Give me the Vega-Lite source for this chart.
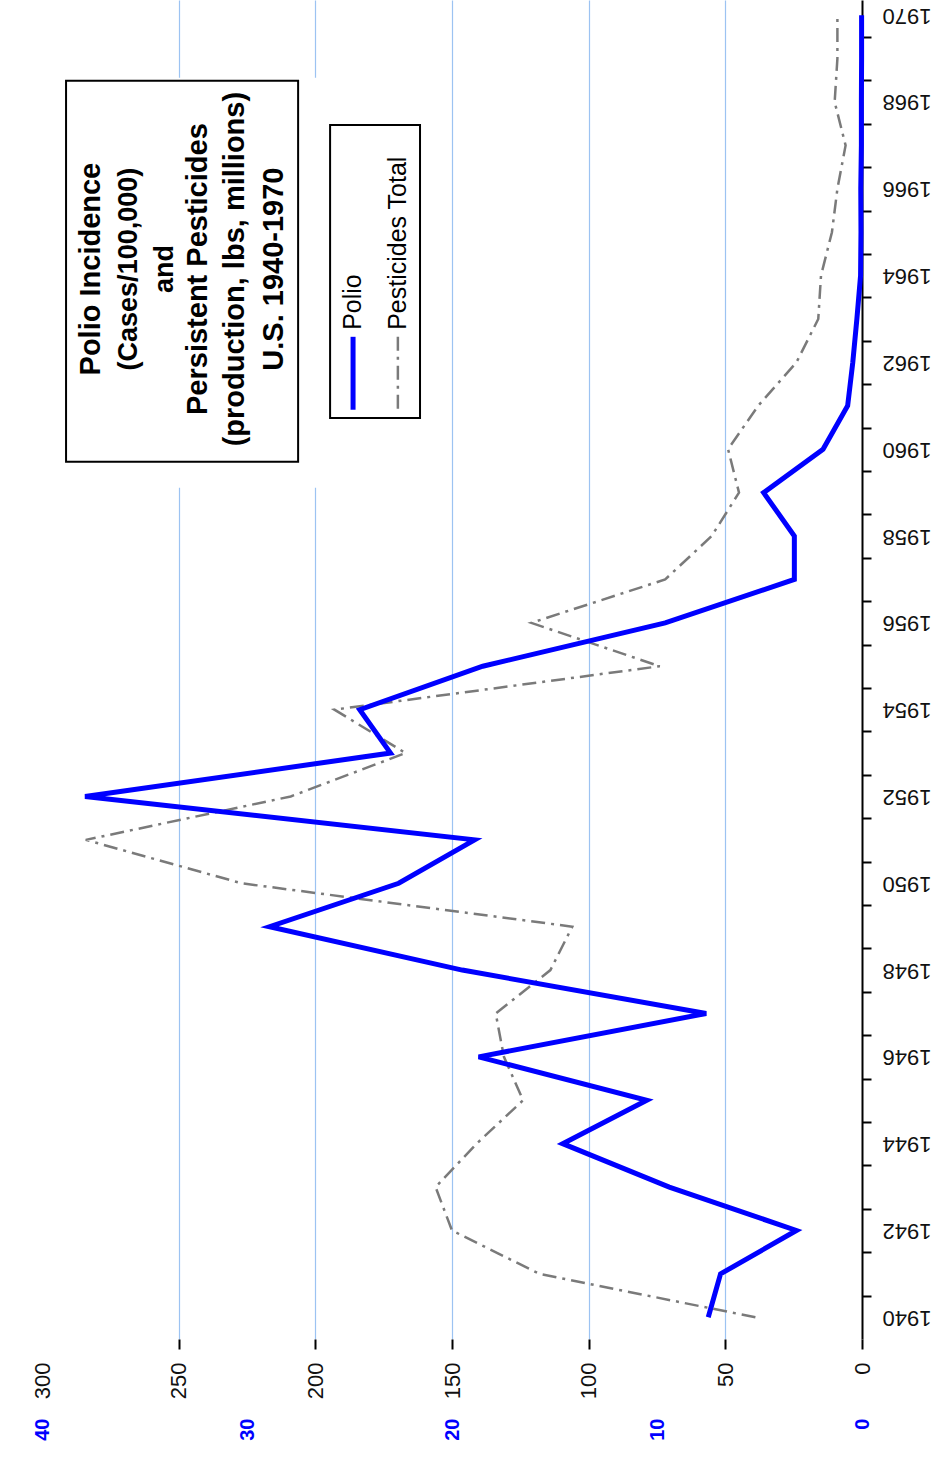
{
  "$schema": "https://vega.github.io/schema/vega-lite/v6.json",
  "width": 820,
  "height": 1339,
  "autosize": {"type": "none"},
  "padding": {"left": 42, "top": 0, "right": 78, "bottom": 140},
  "background": "white",
  "config": {"view": {"stroke": null}, "font": "Liberation Sans"},
  "datasets": {
    "main": [
      {"year": 1940, "polio": 7.5, "pesticides": 39},
      {"year": 1941, "polio": 6.9, "pesticides": 118},
      {"year": 1942, "polio": 3.2, "pesticides": 150},
      {"year": 1943, "polio": 9.4, "pesticides": 156},
      {"year": 1944, "polio": 14.6, "pesticides": 141},
      {"year": 1945, "polio": 10.5, "pesticides": 124},
      {"year": 1946, "polio": 18.7, "pesticides": 131},
      {"year": 1947, "polio": 7.6, "pesticides": 134},
      {"year": 1948, "polio": 19.5, "pesticides": 114},
      {"year": 1949, "polio": 28.9, "pesticides": 106},
      {"year": 1950, "polio": 22.6, "pesticides": 227},
      {"year": 1951, "polio": 18.9, "pesticides": 284},
      {"year": 1952, "polio": 37.9, "pesticides": 209},
      {"year": 1953, "polio": 23.0, "pesticides": 167},
      {"year": 1954, "polio": 24.5, "pesticides": 193},
      {"year": 1955, "polio": 18.5, "pesticides": 74},
      {"year": 1956, "polio": 9.6, "pesticides": 121},
      {"year": 1957, "polio": 3.3, "pesticides": 72},
      {"year": 1958, "polio": 3.3, "pesticides": 55},
      {"year": 1959, "polio": 4.8, "pesticides": 45},
      {"year": 1960, "polio": 1.9, "pesticides": 49},
      {"year": 1961, "polio": 0.7, "pesticides": 38},
      {"year": 1962, "polio": 0.45, "pesticides": 24},
      {"year": 1963, "polio": 0.25, "pesticides": 16},
      {"year": 1964, "polio": 0.07, "pesticides": 15},
      {"year": 1965, "polio": 0.05, "pesticides": 11},
      {"year": 1966, "polio": 0.06, "pesticides": 9},
      {"year": 1967, "polio": 0.03, "pesticides": 6},
      {"year": 1968, "polio": 0.03, "pesticides": 10},
      {"year": 1969, "polio": 0.02, "pesticides": 9},
      {"year": 1970, "polio": 0.02, "pesticides": 9}
    ]
  },
  "data": {"name": "main"},
  "resolve": {"scale": {"x": "independent"}, "axis": {"x": "independent"}},
  "layer": [
    {
      "layer": [
        {
          "mark": {"type": "line", "stroke": "#7a7a7a", "strokeWidth": 2.5, "strokeDash": [14, 6, 3, 6]},
          "encoding": {
            "x": {
              "field": "pesticides", "type": "quantitative",
              "scale": {"domain": [0, 300], "reverse": true, "nice": false},
              "axis": {
                "orient": "bottom", "values": [0, 50, 100, 150, 200, 250, 300], "title": null,
                "domain": false, "grid": true,
                "gridColor": {"condition": {"test": "datum.value == 0 || datum.value == 300", "value": "transparent"}, "value": "#9cc3f2"},
                "gridWidth": 1.2,
                "ticks": true,
                "tickColor": {"condition": {"test": "datum.value == 300", "value": "transparent"}, "value": "black"},
                "tickSize": 10, "tickWidth": 2,
                "labelAngle": 270, "labelFontSize": 22, "labelColor": "#111111", "labelPadding": 13,
                "labelOverlap": false, "labelFlush": false, "labelBound": false
              }
            },
            "y": {
              "field": "year", "type": "quantitative",
              "scale": {"domain": [1939.5, 1970.35], "nice": false, "zero": false},
              "axis": {
                "orient": "right",
                "values": [1939, 1940, 1941, 1942, 1943, 1944, 1945, 1946, 1947, 1948, 1949, 1950, 1951, 1952, 1953, 1954, 1955, 1956, 1957, 1958, 1959, 1960, 1961, 1962, 1963, 1964, 1965, 1966, 1967, 1968, 1969, 1970],
                "title": null, "grid": false,
                "domain": true, "domainColor": "black", "domainWidth": 2,
                "ticks": true, "tickColor": "black", "tickWidth": 2, "tickSize": 9,
                "tickOffset": -21.7, "labelOffset": 21.7,
                "labelExpr": "datum.value % 2 == 0 ? '' + datum.value : ''",
                "labelAngle": 180, "labelAlign": "right", "labelBaseline": "middle",
                "labelFontSize": 22, "labelColor": "#111111", "labelPadding": 11,
                "labelOverlap": false, "labelBound": false, "labelFlush": false
              }
            },
            "order": {"field": "year"}
          }
        },
        {
          "data": {"values": [{}]},
          "mark": {"type": "rect", "fill": "white", "stroke": null},
          "encoding": {
            "x": {"datum": 298.9, "type": "quantitative"},
            "x2": {"datum": 158},
            "y": {"datum": 1968.56, "type": "quantitative"},
            "y2": {"datum": 1959.11}
          }
        },
        {
          "data": {"values": [{}]},
          "mark": {"type": "rect", "fill": "white", "stroke": "black", "strokeWidth": 2},
          "encoding": {
            "x": {"datum": 291.2, "type": "quantitative"},
            "x2": {"datum": 206.3},
            "y": {"datum": 1968.49, "type": "quantitative"},
            "y2": {"datum": 1959.71}
          }
        },
        {
          "data": {"values": [{}]},
          "mark": {"type": "rect", "fill": "white", "stroke": "black", "strokeWidth": 2},
          "encoding": {
            "x": {"datum": 194.6, "type": "quantitative"},
            "x2": {"datum": 161.7},
            "y": {"datum": 1967.47, "type": "quantitative"},
            "y2": {"datum": 1960.72}
          }
        },
        {
          "data": {"values": [{}]},
          "mark": {"type": "text", "text": "Polio Incidence", "angle": 270, "align": "center", "baseline": "middle", "fontSize": 29, "fontWeight": "bold", "color": "black"},
          "encoding": {"x": {"datum": 282.1, "type": "quantitative"}, "y": {"datum": 1964.15, "type": "quantitative"}}
        },
        {
          "data": {"values": [{}]},
          "mark": {"type": "text", "text": "(Cases/100,000)", "angle": 270, "align": "center", "baseline": "middle", "fontSize": 27, "fontWeight": "bold", "color": "black"},
          "encoding": {"x": {"datum": 268.2, "type": "quantitative"}, "y": {"datum": 1964.15, "type": "quantitative"}}
        },
        {
          "data": {"values": [{}]},
          "mark": {"type": "text", "text": "and", "angle": 270, "align": "center", "baseline": "middle", "fontSize": 27, "fontWeight": "bold", "color": "black"},
          "encoding": {"x": {"datum": 254.9, "type": "quantitative"}, "y": {"datum": 1964.15, "type": "quantitative"}}
        },
        {
          "data": {"values": [{}]},
          "mark": {"type": "text", "text": "Persistent Pesticides", "angle": 270, "align": "center", "baseline": "middle", "fontSize": 29, "fontWeight": "bold", "color": "black"},
          "encoding": {"x": {"datum": 242.9, "type": "quantitative"}, "y": {"datum": 1964.15, "type": "quantitative"}}
        },
        {
          "data": {"values": [{}]},
          "mark": {"type": "text", "text": "(production, lbs, millions)", "angle": 270, "align": "center", "baseline": "middle", "fontSize": 29, "fontWeight": "bold", "color": "black"},
          "encoding": {"x": {"datum": 229.4, "type": "quantitative"}, "y": {"datum": 1964.15, "type": "quantitative"}}
        },
        {
          "data": {"values": [{}]},
          "mark": {"type": "text", "text": "U.S.  1940-1970", "angle": 270, "align": "center", "baseline": "middle", "fontSize": 29, "fontWeight": "bold", "color": "black"},
          "encoding": {"x": {"datum": 215.1, "type": "quantitative"}, "y": {"datum": 1964.15, "type": "quantitative"}}
        },
        {
          "data": {"values": [{}]},
          "mark": {"type": "rule", "stroke": "#0000ff", "strokeWidth": 5},
          "encoding": {"x": {"datum": 186.2, "type": "quantitative"}, "y": {"datum": 1962.59, "type": "quantitative"}, "y2": {"datum": 1960.91}}
        },
        {
          "data": {"values": [{}]},
          "mark": {"type": "rule", "stroke": "#7a7a7a", "strokeWidth": 2.5, "strokeDash": [14, 6, 3, 6]},
          "encoding": {"x": {"datum": 169.8, "type": "quantitative"}, "y": {"datum": 1962.59, "type": "quantitative"}, "y2": {"datum": 1960.91}}
        },
        {
          "data": {"values": [{}]},
          "mark": {"type": "text", "text": "Polio", "angle": 270, "align": "left", "baseline": "middle", "fontSize": 25, "color": "black"},
          "encoding": {"x": {"datum": 186.2, "type": "quantitative"}, "y": {"datum": 1962.75, "type": "quantitative"}}
        },
        {
          "data": {"values": [{}]},
          "mark": {"type": "text", "text": "Pesticides Total", "angle": 270, "align": "left", "baseline": "middle", "fontSize": 25, "color": "black"},
          "encoding": {"x": {"datum": 169.8, "type": "quantitative"}, "y": {"datum": 1962.75, "type": "quantitative"}}
        }
      ]
    },
    {
      "mark": {"type": "line", "stroke": "#0000ff", "strokeWidth": 5, "strokeJoin": "miter"},
      "encoding": {
        "x": {
          "field": "polio", "type": "quantitative",
          "scale": {"domain": [0, 40], "reverse": true, "nice": false},
          "axis": {
            "orient": "bottom", "offset": 75, "values": [0, 10, 20, 30, 40], "title": null,
            "domain": false, "ticks": false, "tickSize": 0, "grid": false,
            "labelAngle": 270, "labelFontSize": 20, "labelFontWeight": "bold", "labelColor": "#0000ff", "labelPadding": 4,
            "labelOverlap": false, "labelFlush": false, "labelBound": false
          }
        },
        "y": {"field": "year", "type": "quantitative"},
        "order": {"field": "year"}
      }
    }
  ]
}
